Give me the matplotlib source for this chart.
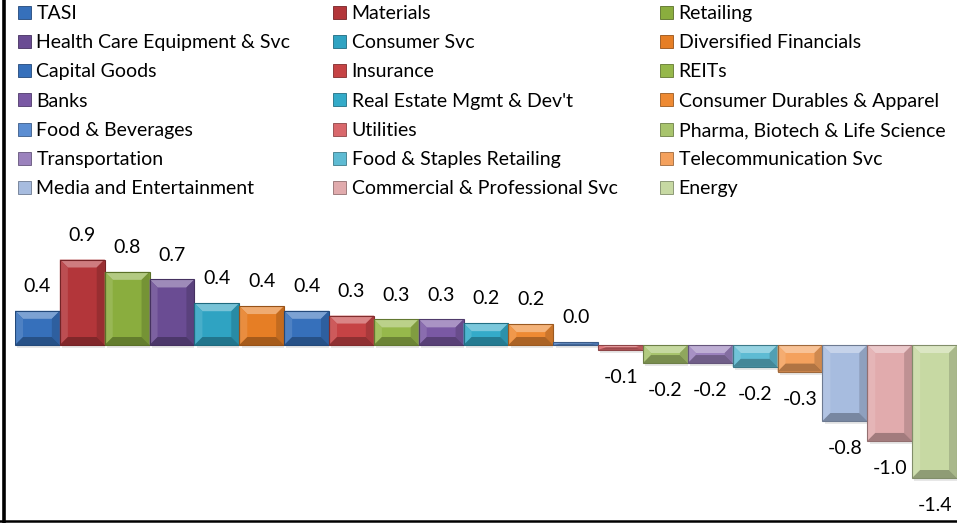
import matplotlib.pyplot as plt
import matplotlib.colors as mcolors
from matplotlib.patches import Polygon, Patch
import numpy as np

plt.rcParams['font.family'] = ['Lato', 'DejaVu Sans']

sectors = ['TASI', 'Materials', 'Retailing', 'Health Care Equipment & Svc',
           'Consumer Svc', 'Diversified Financials', 'Capital Goods', 'Insurance',
           'REITs', 'Banks', "Real Estate Mgmt & Dev't", 'Consumer Durables & Apparel',
           'Food & Beverages', 'Utilities', 'Pharma, Biotech & Life Science',
           'Transportation', 'Food & Staples Retailing', 'Telecommunication Svc',
           'Media and Entertainment', 'Commercial & Professional Svc', 'Energy']
values = [0.36, 0.90, 0.77, 0.69, 0.44, 0.41, 0.36, 0.31, 0.27, 0.27, 0.23, 0.22,
          0.03, -0.05, -0.19, -0.19, -0.23, -0.28, -0.80, -1.01, -1.40]
colors = ['#3670bb', '#b3363a', '#8aad3e', '#6a4c93', '#2fa3c2', '#e67e25',
          '#3670bb', '#c64345', '#96b84b', '#7a59a4', '#34abc9', '#ee8a33',
          '#5c8ed2', '#d9686c', '#a8c46d', '#9b82bd', '#5ebbd3', '#f4a15d',
          '#a7bcdf', '#e1abad', '#c7d9a3']

W, H = 957, 523
fig = plt.figure(figsize=(W / 100, H / 100), dpi=100)

# plot area in pixels
px_left, px_right = 15, 957
px_top, px_bot = 230, 500
zero_px = 345
ppu = 95.0  # pixels per unit
ax = fig.add_axes([px_left / W, (H - px_bot) / H, (px_right - px_left) / W, (px_bot - px_top) / H])
ymax = (zero_px - px_top) / ppu
ymin = -(px_bot - zero_px) / ppu
ax.set_xlim(-0.5, len(values) - 0.5)
ax.set_ylim(ymin, ymax)
ax.axis('off')

x = np.arange(len(values))
bars = ax.bar(x, values, width=1.0, color=colors, edgecolor='none', zorder=2)

dx_px = (len(values)) / (px_right - px_left)
dy_px = 1.0 / ppu


def shade(c, f):
    r = np.array(mcolors.to_rgb(c))
    if f > 0:
        return tuple(r + (1 - r) * f)
    return tuple(r * (1 + f))


# bevel effect built from each bar's own geometry
bev = 8
for b, c in zip(bars, colors):
    x0, x1 = b.get_x(), b.get_x() + b.get_width()
    y0, y1 = sorted([b.get_y(), b.get_y() + b.get_height()])
    hpx = (y1 - y0) / dy_px
    by = min(bev, hpx / 2) * dy_px
    bx = bev * dx_px
    # soft shadow below
    ax.add_patch(Polygon([(x0 + 0.05, y0 - 3 * dy_px), (x1, y0 - 3 * dy_px), (x1, y0), (x0 + 0.05, y0)],
                         closed=True, facecolor='#d8d8d8', edgecolor='none', zorder=1, alpha=0.6))
    ax.add_patch(Polygon([(x0, y1), (x1, y1), (x1 - bx, y1 - by), (x0 + bx, y1 - by)],
                         closed=True, facecolor=shade(c, 0.35), edgecolor='none', zorder=3))
    ax.add_patch(Polygon([(x0, y0), (x0, y1), (x0 + bx, y1 - by), (x0 + bx, y0 + by)],
                         closed=True, facecolor=shade(c, 0.12), edgecolor='none', zorder=3))
    ax.add_patch(Polygon([(x1, y0), (x1, y1), (x1 - bx, y1 - by), (x1 - bx, y0 + by)],
                         closed=True, facecolor=shade(c, -0.15), edgecolor='none', zorder=3))
    ax.add_patch(Polygon([(x0, y0), (x1, y0), (x1 - bx, y0 + by), (x0 + bx, y0 + by)],
                         closed=True, facecolor=shade(c, -0.28), edgecolor='none', zorder=3))
    ax.add_patch(Polygon([(x0, y0), (x1, y0), (x1, y1), (x0, y1)], closed=True,
                         facecolor='none', edgecolor=shade(c, -0.35), linewidth=0.8, zorder=4))

for xi, v in zip(x, values):
    off = 17.5 if v >= 0 else -20
    ax.annotate(f'{v:.1f}', (xi, v), xytext=(0, off), textcoords='offset points',
                ha='center', va='center', fontsize=14, color='black', zorder=5)

# legend, row-major order in 3 columns
handles = [Patch(facecolor=c, edgecolor=shade(c, -0.35), linewidth=0.6) for c in colors]
order = [i for col in range(3) for i in range(col, len(sectors), 3)]
fig.legend([handles[i] for i in order], [sectors[i] for i in order], ncol=3,
           loc='upper left', bbox_to_anchor=(14 / W, 1 - 1 / H), frameon=False,
           fontsize=14, handlelength=0.65, handleheight=0.65, handletextpad=0.3,
           columnspacing=2.2, labelspacing=0.63, borderaxespad=0.0, borderpad=0.2)

# chart border (left and bottom edges visible)
fig.add_artist(plt.Line2D([3.5 / W, 3.5 / W], [0, 1], color='black', linewidth=2.6,
                          transform=fig.transFigure))
fig.add_artist(plt.Line2D([0, 1], [2 / H, 2 / H], color='black', linewidth=1.8,
                          transform=fig.transFigure))

fig.savefig('out.png', dpi=100)
